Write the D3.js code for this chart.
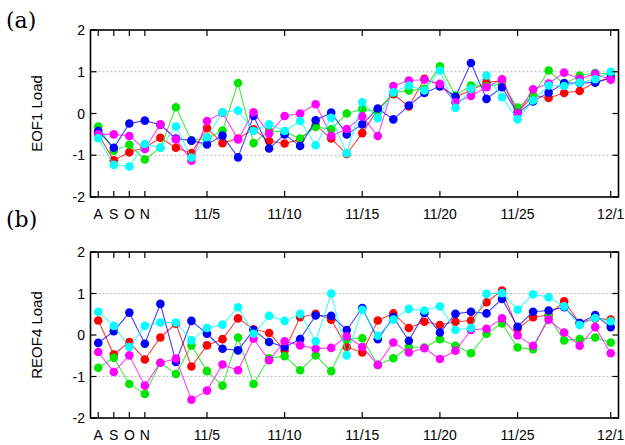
<!DOCTYPE html>
<html>
<head>
<meta charset="utf-8">
<script src="https://cdn.jsdelivr.net/npm/d3@7"></script>
<style>
  body { margin: 0; background: #fff; }
  svg { display: block; }
</style>
</head>
<body>
<script>
// x positions: A,S,O,N monthly, then daily from 11/2 to 12/1 (34 points)
const tickIdx    = [0, 1, 2, 3, 7, 12, 17, 22, 27, 33];
const tickLabels = ['A', 'S', 'O', 'N', '11/5', '11/10', '11/15', '11/20', '11/25', '12/1'];

const seriesNames  = ['red', 'green', 'blue', 'magenta', 'cyan'];
const seriesColors = ['#ff0000', '#00e600', '#0000ff', '#ff00ff', '#00ffff'];

// (a) EOF1 Load
const eofRed     = [-0.5,-1.12,-0.93,-0.82,-0.58,-0.82,-0.95,-0.35,-0.71,-0.6,-0.38,-0.66,-0.72,-0.62,-0.28,-0.6,-0.97,-0.47,0.1,0.46,0.17,0.83,0.68,0.4,0.55,0.75,0.78,0.03,0.43,0.37,0.49,0.54,0.75,0.86];
const eofGreen   = [-0.31,-0.89,-0.75,-1.1,-0.82,0.15,-0.65,-0.6,-0.41,0.73,-0.71,-0.42,-0.44,-0.6,-0.32,-0.38,0.0,0.1,0.05,0.5,0.55,0.59,1.13,0.43,0.67,0.65,0.71,0.14,0.43,1.03,0.7,0.91,0.97,0.95];
const eofBlue    = [-0.42,-0.82,-0.24,-0.17,-0.27,-0.6,-0.65,-0.74,-0.53,-1.05,-0.06,-0.84,-0.5,-0.78,-0.16,0.02,-0.5,-0.26,0.12,-0.14,0.19,0.49,0.65,0.4,1.21,0.35,0.63,0.0,0.29,0.5,0.73,0.73,0.74,0.85];
const eofMagenta = [-0.5,-0.5,-0.54,-0.85,-0.26,-0.62,-1.13,-0.18,0.02,-0.62,0.03,-0.48,-0.06,0.0,0.22,-0.54,-0.37,-0.07,-0.54,0.66,0.79,0.81,0.71,0.27,0.42,0.63,0.82,0.0,0.58,0.72,0.98,0.83,0.95,0.81];
const eofCyan    = [-0.59,-1.23,-1.27,-0.73,-0.82,-0.31,-1.06,-0.57,0.03,0.07,-0.42,-0.26,-0.42,-0.18,-0.76,-0.1,-0.95,0.27,-0.11,0.51,0.67,0.55,1.03,0.13,0.59,0.91,0.39,-0.14,0.31,0.67,0.66,0.74,0.82,1.0];

// (b) REOF4 Load
const reofRed     = [0.35,-0.47,-0.17,-0.59,-0.06,0.27,-0.76,-0.25,-0.1,0.4,0.14,0.05,-0.37,0.43,0.51,0.37,-0.29,-0.42,0.35,0.52,0.17,0.32,0.24,0.32,0.35,0.79,1.07,0.15,0.43,0.48,0.81,0.29,0.4,0.37];
const reofGreen   = [-0.79,-0.55,-1.18,-1.42,-0.67,-0.94,-0.25,-0.87,-1.22,-0.06,-1.18,-0.56,-0.51,-0.85,-0.49,-0.87,-0.1,-0.08,-0.72,-0.56,-0.29,-0.3,-0.1,-0.26,-0.44,0.03,0.28,-0.3,-0.34,0.44,-0.13,-0.1,-0.06,-0.18];
const reofBlue    = [-0.19,0.09,0.54,-0.21,0.75,-0.65,0.34,0.03,-0.33,-0.37,0.12,-0.17,-0.29,-0.1,0.47,0.46,0.12,0.65,-0.1,0.43,-0.14,0.53,0.06,0.51,0.56,0.52,0.87,0.2,0.56,0.59,0.67,0.29,0.48,0.19];
const reofMagenta = [-0.41,-0.89,-0.49,-1.22,-0.67,-0.57,-1.56,-1.34,-0.71,-0.85,-0.09,-0.61,-0.15,-0.25,-0.33,-0.31,-0.03,-0.29,-0.72,-0.18,-0.42,-0.32,-0.58,-0.38,0.12,0.15,0.4,-0.01,-0.26,0.37,0.06,-0.26,0.19,-0.44];
const reofCyan    = [0.56,0.22,-0.29,0.22,0.3,0.3,-0.13,0.17,0.25,0.67,0.03,0.46,0.34,0.51,-0.15,1.0,-0.49,0.61,-0.02,0.37,0.63,0.59,0.69,0.12,0.17,0.99,1.01,0.61,0.98,0.91,0.69,0.24,0.41,0.33];

const yTicks = [-2, -1, 0, 1, 2];

const width = 625, height = 445;
const svg = d3.select('body').append('svg')
  .attr('width', width).attr('height', height);

const x = d3.scaleLinear().domain([-0.5, 33.5]).range([90.5, 618.5]);

const panels = [
  { tag: '(a)', title: 'EOF1 Load',  top: 30,  bottom: 197, tagY: 28,
    data: [eofRed, eofGreen, eofBlue, eofMagenta, eofCyan] },
  { tag: '(b)', title: 'REOF4 Load', top: 252, bottom: 418, tagY: 227,
    data: [reofRed, reofGreen, reofBlue, reofMagenta, reofCyan] }
];

const font = '"Liberation Sans", Arial, sans-serif';

panels.forEach(p => {
  const y = d3.scaleLinear().domain([-2, 2]).range([p.bottom, p.top]);
  const g = svg.append('g');

  // dotted grid at +-1
  g.selectAll('line.grid')
    .data([-1, 1])
    .join('line')
    .attr('x1', x.range()[0]).attr('x2', x.range()[1])
    .attr('y1', d => y(d)).attr('y2', d => y(d))
    .attr('stroke', '#aaa').attr('stroke-width', 0.8)
    .attr('stroke-dasharray', '2,2');

  // series: lines then dots
  p.data.forEach((vals, si) => {
    const line = d3.line().x((d, i) => x(i)).y(d => y(d));
    g.append('path')
      .datum(vals)
      .attr('d', line)
      .attr('fill', 'none')
      .attr('stroke', seriesColors[si])
      .attr('stroke-opacity', 0.75)
      .attr('stroke-width', 1.1);
    g.append('g').selectAll('circle')
      .data(vals)
      .join('circle')
      .attr('cx', (d, i) => x(i))
      .attr('cy', d => y(d))
      .attr('r', 4.3)
      .attr('fill', seriesColors[si]);
  });

  // frame
  g.append('rect')
    .attr('x', x.range()[0]).attr('y', p.top)
    .attr('width', x.range()[1] - x.range()[0])
    .attr('height', p.bottom - p.top)
    .attr('fill', 'none').attr('stroke', '#000').attr('stroke-width', 1.6);

  // inward ticks, mirrored on all sides
  const tl = 6;
  const xt = g.append('g').attr('stroke', '#000').attr('stroke-width', 1.2);
  tickIdx.forEach(i => {
    xt.append('line').attr('x1', x(i)).attr('x2', x(i)).attr('y1', p.bottom).attr('y2', p.bottom - tl);
    xt.append('line').attr('x1', x(i)).attr('x2', x(i)).attr('y1', p.top).attr('y2', p.top + tl);
  });
  yTicks.forEach(v => {
    xt.append('line').attr('x1', x.range()[0]).attr('x2', x.range()[0] + tl).attr('y1', y(v)).attr('y2', y(v));
    xt.append('line').attr('x1', x.range()[1]).attr('x2', x.range()[1] - tl).attr('y1', y(v)).attr('y2', y(v));
  });

  // labels
  g.selectAll('text.xl')
    .data(tickIdx)
    .join('text')
    .attr('x', d => x(d)).attr('y', p.bottom + 22)
    .attr('text-anchor', 'middle')
    .style('font', `14px ${font}`)
    .text((d, i) => tickLabels[i]);

  g.selectAll('text.yl')
    .data(yTicks)
    .join('text')
    .attr('x', 85).attr('y', d => y(d) + 5)
    .attr('text-anchor', 'end')
    .style('font', `14px ${font}`)
    .text(d => d);

  g.append('text')
    .attr('transform', `translate(42,${(p.top + p.bottom) / 2}) rotate(-90)`)
    .attr('text-anchor', 'middle')
    .style('font', `15px ${font}`)
    .text(p.title);

  g.append('text')
    .attr('x', 6).attr('y', p.tagY)
    .style('font', '22px "DejaVu Serif", serif')
    .text(p.tag);
});
</script>
</body>
</html>
